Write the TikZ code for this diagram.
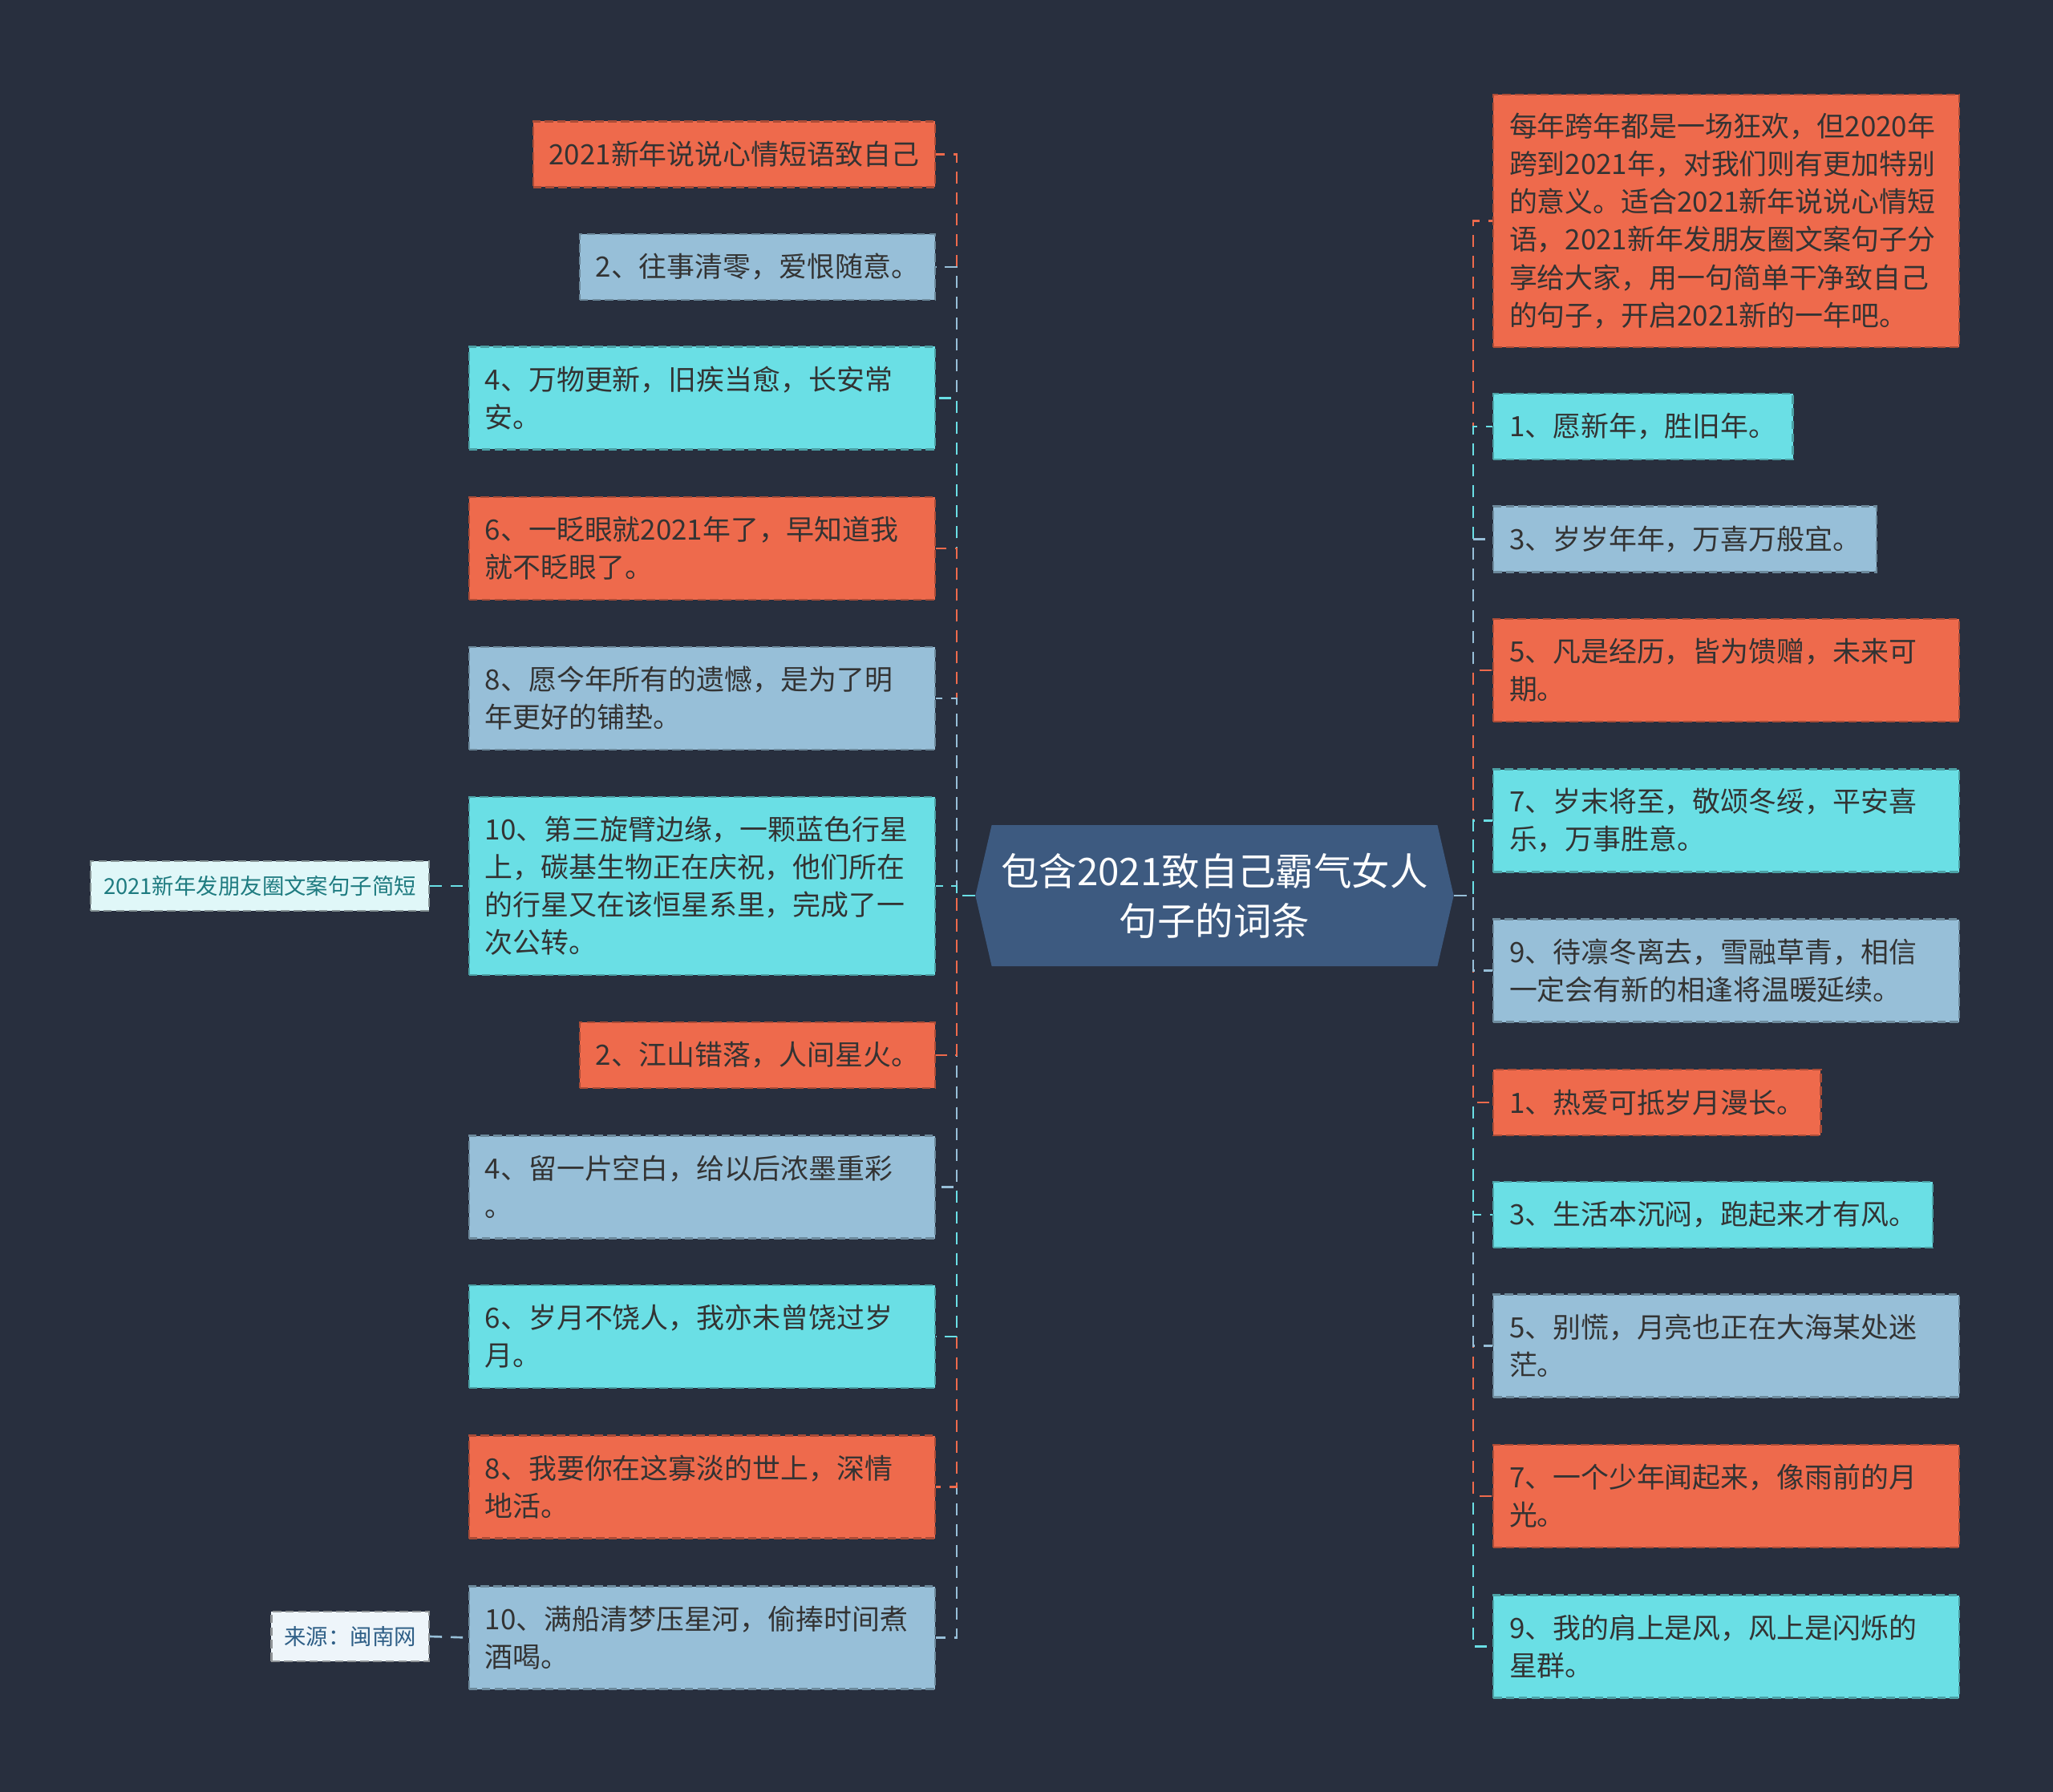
\documentclass[tikz,border=0pt]{standalone}
\usepackage{fontspec}
\newfontfamily\cjk{Noto Sans CJK SC}
\usepackage{xcolor}
\usepackage{tikz}
\usetikzlibrary{shapes.symbols}
\definecolor{bgc}{HTML}{282F3E}
\definecolor{red2}{HTML}{EE6A4C}
\definecolor{blue2}{HTML}{97BFD8}
\definecolor{cyan2}{HTML}{6ADFE5}
\definecolor{core}{HTML}{3D5A80}
\definecolor{ink}{HTML}{333333}
\definecolor{teal2}{HTML}{1E7B80}
\definecolor{navy2}{HTML}{2F5F87}
\definecolor{tagfill}{HTML}{E0F7F8}
\definecolor{srcfill}{HTML}{EEF5FA}

\begin{document}
\begin{tikzpicture}[
    every node/.style={font=\cjk\fontsize{9.93}{13.4}\selectfont,text=ink},
    leaf/.style={draw=#1!72!black,fill=#1,dash pattern=on 3pt off 1.5pt,
                 line width=0.6pt,inner xsep=0.2cm,inner ysep=0pt,
                 minimum height=0.82cm},
    wide/.style={text width=5.41cm,align=left},
    two/.style={minimum height=1.28cm},
    four/.style={minimum height=2.22cm},
    six/.style={minimum height=3.15cm},
    tag/.style={draw=#1!60!black,dash pattern=on 3pt off 1.5pt,line width=0.6pt,
                inner xsep=0.16cm,inner ysep=0pt,minimum height=0.62cm,
                font=\cjk\fontsize{7.8}{10}\selectfont},
    conn/.style={line width=0.75pt,dash pattern=on 4.3pt off 3.1pt},
  ]
  \fill[bgc] (0,0) rectangle (25.6,-22.35);
  \useasboundingbox (0,0) rectangle (25.6,-22.35);

  \node[shape=signal,signal to=west and east,signal pointer angle=154,
        fill=core,minimum width=5.95cm,minimum height=1.76cm,align=center,
        text=white,font=\cjk\fontsize{13.5}{17.6}\selectfont]
        (ctr) at (15.145,-11.17) {包含2021致自己霸气女人\\句子的词条};
  \coordinate (lt) at (11.93,-11.17);
  \coordinate (rt) at (18.37,-11.17);

  \node[leaf=red2,anchor=east] (L1) at (11.67,-1.925) {2021新年说说心情短语致自己};
  \node[leaf=blue2,anchor=east] (L2) at (11.67,-3.33) {2、往事清零，爱恨随意。};
  \node[leaf=cyan2,wide,two,anchor=east] (L3) at (11.67,-4.965)
    {4、万物更新，旧疾当愈，长安常\\安。};
  \node[leaf=red2,wide,two,anchor=east] (L4) at (11.67,-6.84)
    {6、一眨眼就2021年了，早知道我\\就不眨眼了。};
  \node[leaf=blue2,wide,two,anchor=east] (L5) at (11.67,-8.71)
    {8、愿今年所有的遗憾，是为了明\\年更好的铺垫。};
  \node[leaf=cyan2,wide,four,anchor=east] (L6) at (11.67,-11.05)
    {10、第三旋臂边缘，一颗蓝色行星\\上，碳基生物正在庆祝，他们所在\\的行星又在该恒星系里，完成了一\\次公转。};
  \node[leaf=red2,anchor=east] (L7) at (11.67,-13.16) {2、江山错落，人间星火。};
  \node[leaf=blue2,wide,two,anchor=east] (L8) at (11.67,-14.805)
    {4、留一片空白，给以后浓墨重彩\\。};
  \node[leaf=cyan2,wide,two,anchor=east] (L9) at (11.67,-16.67)
    {6、岁月不饶人，我亦未曾饶过岁\\月。};
  \node[leaf=red2,wide,two,anchor=east] (L10) at (11.67,-18.545)
    {8、我要你在这寡淡的世上，深情\\地活。};
  \node[leaf=blue2,wide,two,anchor=east] (L11) at (11.67,-20.425)
    {10、满船清梦压星河，偷捧时间煮\\酒喝。};

  \node[tag=tagfill,fill=tagfill,text=teal2,anchor=east] (s1) at (5.36,-11.05)
    {2021新年发朋友圈文案句子简短};
  \node[tag=srcfill,fill=srcfill,text=navy2,anchor=east] (s2) at (5.36,-20.41)
    {来源：闽南网};

  \node[leaf=red2,wide,six,anchor=west] (R1) at (18.61,-2.755)
    {每年跨年都是一场狂欢，但2020年\\跨到2021年，对我们则有更加特别\\的意义。适合2021新年说说心情短\\语，2021新年发朋友圈文案句子分\\享给大家，用一句简单干净致自己\\的句子，开启2021新的一年吧。};
  \node[leaf=cyan2,anchor=west] (R2) at (18.61,-5.32) {1、愿新年，胜旧年。};
  \node[leaf=blue2,anchor=west] (R3) at (18.61,-6.725) {3、岁岁年年，万喜万般宜。};
  \node[leaf=red2,wide,two,anchor=west] (R4) at (18.61,-8.36)
    {5、凡是经历，皆为馈赠，未来可\\期。};
  \node[leaf=cyan2,wide,two,anchor=west] (R5) at (18.61,-10.235)
    {7、岁末将至，敬颂冬绥，平安喜\\乐，万事胜意。};
  \node[leaf=blue2,wide,two,anchor=west] (R6) at (18.61,-12.105)
    {9、待凛冬离去，雪融草青，相信\\一定会有新的相逢将温暖延续。};
  \node[leaf=red2,anchor=west] (R7) at (18.61,-13.75) {1、热爱可抵岁月漫长。};
  \node[leaf=cyan2,anchor=west] (R8) at (18.61,-15.15) {3、生活本沉闷，跑起来才有风。};
  \node[leaf=blue2,wide,two,anchor=west] (R9) at (18.61,-16.785)
    {5、别慌，月亮也正在大海某处迷\\茫。};
  \node[leaf=red2,wide,two,anchor=west] (R10) at (18.61,-18.66)
    {7、一个少年闻起来，像雨前的月\\光。};
  \node[leaf=cyan2,wide,two,anchor=west] (R11) at (18.61,-20.535)
    {9、我的肩上是风，风上是闪烁的\\星群。};

  \draw[conn,red2] (ctr.west) -- (lt) |- (L1.east);
  \draw[conn,blue2] (ctr.west) -- (lt) |- (L2.east);
  \draw[conn,cyan2] (ctr.west) -- (lt) |- (L3.east);
  \draw[conn,red2] (ctr.west) -- (lt) |- (L4.east);
  \draw[conn,blue2] (ctr.west) -- (lt) |- (L5.east);
  \draw[conn,blue2] (ctr.west) -- (lt) |- (L11.east);
  \draw[conn,red2] (ctr.west) -- (lt) |- (L10.east);
  \draw[conn,cyan2] (ctr.west) -- (lt) |- (L9.east);
  \draw[conn,blue2] (ctr.west) -- (lt) |- (L8.east);
  \draw[conn,red2] (ctr.west) -- (lt) |- (L7.east);
  \draw[conn,cyan2] (ctr.west) -- (lt) |- (L6.east);

  \draw[conn,red2] (ctr.east) -- (rt) |- (R1.west);
  \draw[conn,cyan2] (ctr.east) -- (rt) |- (R2.west);
  \draw[conn,blue2] (ctr.east) -- (rt) |- (R3.west);
  \draw[conn,red2] (ctr.east) -- (rt) |- (R4.west);
  \draw[conn,cyan2] (ctr.east) -- (rt) |- (R5.west);
  \draw[conn,cyan2] (ctr.east) -- (rt) |- (R11.west);
  \draw[conn,red2] (ctr.east) -- (rt) |- (R10.west);
  \draw[conn,blue2] (ctr.east) -- (rt) |- (R9.west);
  \draw[conn,cyan2] (ctr.east) -- (rt) |- (R8.west);
  \draw[conn,red2] (ctr.east) -- (rt) |- (R7.west);
  \draw[conn,blue2] (ctr.east) -- (rt) |- (R6.west);

  \draw[conn,cyan2] (s1.east) -- (L6.west);
  \draw[conn,blue2] (s2.east) -- (L11.west);
\end{tikzpicture}
\end{document}
